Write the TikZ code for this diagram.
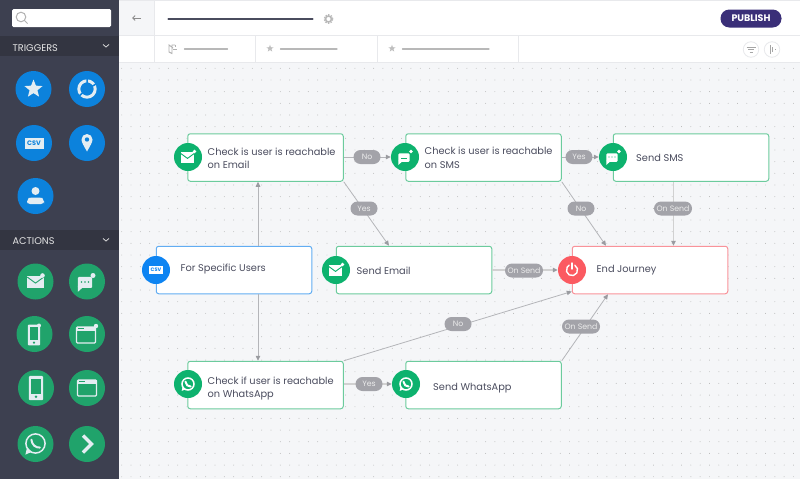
\documentclass[tikz,border=0pt]{standalone}
\usepackage{fontspec}
\setmainfont{Poppins}
\usetikzlibrary{arrows.meta,calc,shapes.geometric}
\definecolor{side}{HTML}{3D4050}
\definecolor{sidedark}{HTML}{333541}
\definecolor{canvas}{HTML}{F5F6F8}
\definecolor{rule}{HTML}{E8E9EC}
\definecolor{blueic}{HTML}{0C82DC}
\definecolor{greenic}{HTML}{20A36B}
\definecolor{gr}{HTML}{0DB26E}
\definecolor{grline}{HTML}{6CCB9D}
\definecolor{bl}{HTML}{0D84F2}
\definecolor{blline}{HTML}{62ADF2}
\definecolor{rd}{HTML}{FB5A61}
\definecolor{rdline}{HTML}{F9939A}
\definecolor{ink}{HTML}{4A4C5E}
\definecolor{pill}{HTML}{A3A3A9}
\definecolor{conn}{HTML}{B4B5B9}
\definecolor{tipc}{HTML}{9A9BA0}
\definecolor{iconw}{HTML}{E4EDF2}
\definecolor{navy}{HTML}{3A2F78}
\tikzset{
 box/.style={draw=#1,line width=1pt,fill=white,rounded corners=2.5pt,minimum height=47.5pt,minimum width=155.5pt,inner sep=0pt},
 boxtext/.style={anchor=west,text=ink,font=\fontsize{9.8}{13.6}\selectfont,align=left,inner sep=0pt},
 flowic/.style={circle,fill=#1,minimum size=28pt,inner sep=0pt},
 sideic/.style={circle,fill=#1,minimum size=36pt,inner sep=0pt},
 pilllabel/.style={fill=pill,text=white!92!black,rounded corners=7pt,minimum height=14pt,minimum width=27pt,inner sep=0pt,font=\fontsize{7.8}{10}\selectfont},
 flow/.style={draw=conn,line width=0.8pt,-{Triangle[length=5pt,width=4.5pt,color=tipc]}},
 flowfat/.style={draw=black!18,line width=1.4pt,-{Triangle[length=5pt,width=4.5pt,color=tipc]}},
 headline/.style={draw=#1,line cap=round},
 sectiontitle/.style={anchor=west,text=white!90!black,font=\fontsize{9.7}{11}\selectfont,inner sep=0pt},
}
\newcommand{\icmail}[2]{\begin{scope}[shift={(#1)},scale=#2]
 \fill[white] (-7.5,-5.5) rectangle (7.5,5.5);
 \draw[draw=gr,line width=0.9pt] (-7.5,-4.5) -- (0,1) -- (7.5,-4.5);
 \end{scope}}
\newcommand{\icmailb}[2]{\begin{scope}[shift={(#1)},scale=#2]
 \fill[iconw] (-7.5,-5.5) rectangle (7.5,5.5);
 \draw[draw=greenic,line width=0.9pt] (-7.5,-4.5) -- (0,1) -- (7.5,-4.5);
 \end{scope}}
\newcommand{\icchat}[3]{\begin{scope}[shift={(#1)},scale=#2]
 \fill[#3,rounded corners=1pt] (-6.5,-5.5) rectangle (6.5,4.5);
 \fill[#3] (-6.5,3) -- (-6.5,8) -- (-2,4) -- cycle;
 \end{scope}}
\newcommand{\icphone}[4]{\begin{scope}[shift={(#1)},scale=#2]
 \fill[#3,rounded corners=1pt] (-6.5,-11) rectangle (6.5,11);
 \fill[#4] (-4.5,-8.5) rectangle (4.5,5);
 \fill[#4] (0,8) circle (1.3);
 \end{scope}}
\newcommand{\icwin}[4]{\begin{scope}[shift={(#1)},scale=#2]
 \draw[#3,line width=1.2pt,rounded corners=1pt] (-9.5,-8) rectangle (9.5,8);
 \fill[#3] (-9.5,-8) rectangle (9.5,-4.5);
 \fill[#4] (-8,-6.8) rectangle (-2,-5.6);
 \end{scope}}
\newcommand{\icwa}[4]{\begin{scope}[shift={(#1)},scale=#2]
 \draw[#3,line width=1.5pt] (0,0) circle (8);
 \fill[#3] (-8.4,9.2) -- (-7,3) -- (-3,7) -- cycle;
 \draw[#3,line width=2pt,line cap=round] (-3.4,-3.2) .. controls (-3,1) and (0,3.6) .. (3.6,3.4);
 \end{scope}}
\begin{document}
\begin{tikzpicture}[x=1pt,y=-1pt]
\useasboundingbox (0,0) rectangle (800,479);
\fill[canvas] (0,0) rectangle (800,479);
\foreach \i in {0,...,73}{\foreach \j in {0,...,35}{
 \fill[black!30] ({121.7+\i*9.33},{68.3+\j*11.67}) circle (0.45pt);}}
\fill[white] (119,0) rectangle (800,62);
\fill[canvas] (119,0) rectangle (154,35);
\draw[rule,line width=0.8pt] (119,0.5) -- (800,0.5);
\draw[rule,line width=0.8pt] (119,35.5) -- (800,35.5);
\draw[rule,line width=0.8pt] (119,62) -- (800,62);
\draw[rule,line width=0.8pt] (154.5,0) -- (154.5,62);
\draw[rule,line width=0.8pt] (255.5,36) -- (255.5,62);
\draw[rule,line width=0.8pt] (377.5,36) -- (377.5,62);
\draw[rule,line width=0.8pt] (518.5,36) -- (518.5,62);
\draw[black!45,line width=0.9pt,-{Straight Barb[length=2.5pt,width=5pt]}] (141,18) -- (132,18);
\draw[headline=ink,line width=2.2pt] (168.5,19) -- (312.5,19);
\draw[black!28,line width=1.6pt] (328.5,19) circle (3pt);
\draw[black!28,line width=1pt,dash pattern=on 1.5pt off 1.3pt] (328.5,19) circle (4.4pt);
\draw[black!30,line width=0.9pt] (173,48) -- (169,45) -- (169,52) -- (172,53.5) -- (172,45) -- (175,45);
\draw[black!30,line width=0.9pt] (173,49) -- (177,49);
\draw[black!30,line width=0.9pt] (175,45) -- (175,47);
\draw[headline=black!28,line width=1.1pt] (184.5,49) -- (227.5,49);
\node[star,star points=5,star point ratio=2.4,fill=black!25,minimum size=7.5pt,inner sep=0pt] (starone) at (270,48.5) {};
\draw[headline=black!28,line width=1.1pt] (280.5,49) -- (337,49);
\node[star,star points=5,star point ratio=2.4,fill=black!25,minimum size=7.5pt,inner sep=0pt] (startwo) at (392,48.5) {};
\draw[headline=black!28,line width=1.1pt] (402.5,49) -- (489,49);
\node[circle,draw=rule,line width=0.8pt,fill=white,minimum size=15.5pt,inner sep=0pt] (tbone) at (751,49.5) {};
\draw[black!35,line width=0.9pt] (746.5,47) -- (755.5,47) (748,49.5) -- (754,49.5) (749.5,52) -- (752.5,52);
\node[circle,draw=rule,line width=0.8pt,fill=white,minimum size=15.5pt,inner sep=0pt] (tbtwo) at (772,49.5) {};
\draw[black!35,line width=0.9pt] (770,45) -- (770,54) (772.5,47) -- (772.5,52) (775,49) -- (775,50);
\node[fill=navy,rounded corners=8.8pt,minimum width=61pt,minimum height=18pt,inner sep=0pt,text=white,font=\fontsize{9.5}{11}\selectfont\bfseries] (publish) at (751,18.5) {PUBLISH};
\fill[side] (0,0) rectangle (119,479);
\fill[sidedark] (0,36) rectangle (119,56);
\fill[sidedark] (0,230) rectangle (119,250);
\node[fill=white,rounded corners=1.5pt,minimum width=99pt,minimum height=18pt,inner sep=0pt] (search) at (61.5,18) {};
\draw[black!30,line width=1pt] (21,17) circle (4.8pt);
\draw[black!30,line width=1pt] (24.6,20.6) -- (27.5,23.5);
\node[sectiontitle] (trig) at (12.5,48) {TRIGGERS};
\node[sectiontitle] (acts) at (12.5,241) {ACTIONS};
\draw[white!85!black,line width=0.8pt] (103,44.5) -- (106,47) -- (109,44.5);
\draw[white!85!black,line width=0.8pt] (103,238.5) -- (106,241) -- (109,238.5);
\node[sideic=blueic] (t1) at (33.5,89) {};
\node[star,star points=5,star point ratio=2.3,fill=iconw,minimum size=19pt,inner sep=0pt] (t1s) at (33.5,89) {};
\node[sideic=blueic] (t2) at (87,89) {};
\draw[iconw,line width=3pt] (87,89) circle (8.2pt);
\draw[blueic,line width=1.5pt] (87,78) -- (87,85) (78,97) -- (83,92.5) (96,84) -- (91,87);
\node[sideic=blueic] (t3) at (34,143) {};
\node[fill=iconw,minimum width=19pt,minimum height=11pt,inner sep=0pt,text=blueic,font=\fontsize{6.5}{7}\selectfont\bfseries] (t3c) at (34,143) {CSV};
\node[sideic=blueic] (t4) at (87,143) {};
\fill[iconw] (87,151.5) .. controls (84,146) and (81.5,142.5) .. (81.5,139.5) arc (180:0:5.5pt) .. controls (92.5,142.5) and (90,146) .. cycle;
\fill[blueic] (87,139.5) circle (2.2pt);
\node[sideic=blueic] (t5) at (35.5,196) {};
\fill[iconw] (35.5,191) circle (4pt);
\fill[iconw,rounded corners=3pt] (27,204) -- (27,200.5) .. controls (29,197.5) and (42,197.5) .. (44,200.5) -- (44,204) -- cycle;
\node[sideic=greenic] (a1) at (35.5,281.5) {};
\icmailb{35.5,282}{1.1}
\fill[iconw] (42.5,275.5) circle (2.3pt);
\node[sideic=greenic] (a2) at (87,281.5) {};
\icchat{85,283}{1.1}{iconw}
\fill[greenic] (81.5,282) circle (0.9) (85,282) circle (0.9) (88.5,282) circle (0.9);
\fill[iconw] (93,275.5) circle (2.5pt);
\node[sideic=greenic] (a3) at (34.5,334) {};
\icphone{34,335}{0.95}{iconw}{greenic}
\fill[iconw] (39,325.5) circle (2pt);
\node[sideic=greenic] (a4) at (87,334) {};
\icwin{86,335}{1}{iconw}{greenic}
\fill[iconw] (96,326) circle (2.2pt);
\node[sideic=greenic] (a5) at (36,388) {};
\icphone{36,388}{1.1}{iconw}{greenic}
\node[sideic=greenic] (a6) at (87,388) {};
\icwin{87,388}{1}{iconw}{greenic}
\node[sideic=greenic] (a7) at (35.5,444) {};
\icwa{35.5,443.5}{1.2}{iconw}{greenic}
\node[sideic=greenic] (a8) at (87,444) {};
\draw[iconw,line width=3.2pt] (83,435.5) -- (91.5,444) -- (83,452.5);
\node[box=grline] (chkemail) at (265.5,157.5) {};
\node[box=grline] (chksms) at (483.5,157.5) {};
\node[box=grline] (sendsms) at (691,157.5) {};
\node[box=blline] (spec) at (234,270) {};
\node[box=grline] (sendemail) at (414,270) {};
\node[box=rdline] (endj) at (650,270) {};
\node[box=grline] (chkwa) at (265.5,385) {};
\node[box=grline] (sendwa) at (483.5,385) {};
\node[flowic=gr] (i1) at (188,157) {};
\node[flowic=gr] (i2) at (405,157) {};
\node[flowic=gr] (i3) at (613,157) {};
\node[flowic=bl] (i4) at (156,270) {};
\node[flowic=gr] (i5) at (336,270) {};
\node[flowic=rd] (i6) at (572,270) {};
\node[flowic=gr] (i7) at (188,384) {};
\node[flowic=gr] (i8) at (406,384) {};
\icmail{187.5,157.5}{0.92}
\fill[white] (194.5,151.5) circle (1.8pt);
\icchat{404,158}{0.85}{white}
\fill[gr] (401,157.5) rectangle (407,158.5);
\fill[white] (411,151.5) circle (1.8pt);
\icchat{612,158}{0.85}{white}
\fill[gr] (609,157) circle (0.7) (612,157) circle (0.7) (615,157) circle (0.7);
\fill[white] (619,151.5) circle (1.8pt);
\node[fill=white,minimum width=14pt,minimum height=8pt,inner sep=0pt,text=bl,font=\fontsize{5}{6}\selectfont\bfseries] (csvt) at (156,270) {CSV};
\icmail{335.5,270.5}{0.92}
\fill[white] (342.5,264.5) circle (1.8pt);
\draw[white,line width=1.4pt,line cap=round] (574.8,265.2) arc (60:-240:5.6pt);
\draw[white,line width=1.4pt,line cap=round] (572,263) -- (572,269);
\icwa{188,384}{0.75}{white}{gr}
\icwa{406,384}{0.75}{white}{gr}
\node[boxtext] (t1t) at (207.5,158.5) {Check is user is reachable\\on Email};
\node[boxtext] (t2t) at (424.5,158) {Check is user is reachable\\on SMS};
\node[boxtext] (t3t) at (636,158) {Send SMS};
\node[boxtext] (t4t) at (180.5,269.5) {For Specific Users};
\node[boxtext] (t5t) at (356.5,270.5) {Send Email};
\node[boxtext] (t6t) at (596.5,270) {End Journey};
\node[boxtext] (t7t) at (207.5,388.5) {Check if user is reachable\\on WhatsApp};
\node[boxtext] (t8t) at (433,388.5) {Send WhatsApp};
\draw[flow] ([yshift=0.5pt]chkemail.east) -- (i2);
\draw[flow] (chkemail.south east) -- ([xshift=-25pt]sendemail.north);
\draw[flow] ([yshift=0.5pt]chksms.east) -- (i3);
\draw[flow] (chksms.south east) -- ([xshift=-44pt]endj.north);
\draw[flowfat] ([xshift=-17.5pt]sendsms.south) -- ([xshift=23.5pt]endj.north);
\draw[flow] ([xshift=24pt]spec.north) -- ([xshift=-7.5pt]chkemail.south);
\draw[flow] ([xshift=24pt]spec.south) -- ([xshift=-7.5pt]chkwa.north);
\draw[flowfat] (sendemail.east) -- (i6);
\draw[flow] (chkwa.north east) -- ([yshift=-21.5pt]endj.west);
\draw[flowfat] ([yshift=1pt]chkwa.east) -- (i8);
\draw[flow] (sendwa.north east) -- ([xshift=-42pt]endj.south);
\node[pilllabel] (lno1) at (367,157) {No};
\node[pilllabel] (lyes1) at (364,208.5) {Yes};
\node[pilllabel] (lyes2) at (579,157) {Yes};
\node[pilllabel] (lno2) at (581,208.5) {No};
\node[pilllabel,minimum width=38pt] (lsend1) at (673,208.5) {On Send};
\node[pilllabel,minimum width=38pt] (lsend2) at (524,270.5) {On Send};
\node[pilllabel] (lno3) at (458,324) {No};
\node[pilllabel,minimum width=38pt] (lsend3) at (581,326.5) {On Send};
\node[pilllabel] (lyes3) at (369,384) {Yes};
\end{tikzpicture}
\end{document}
